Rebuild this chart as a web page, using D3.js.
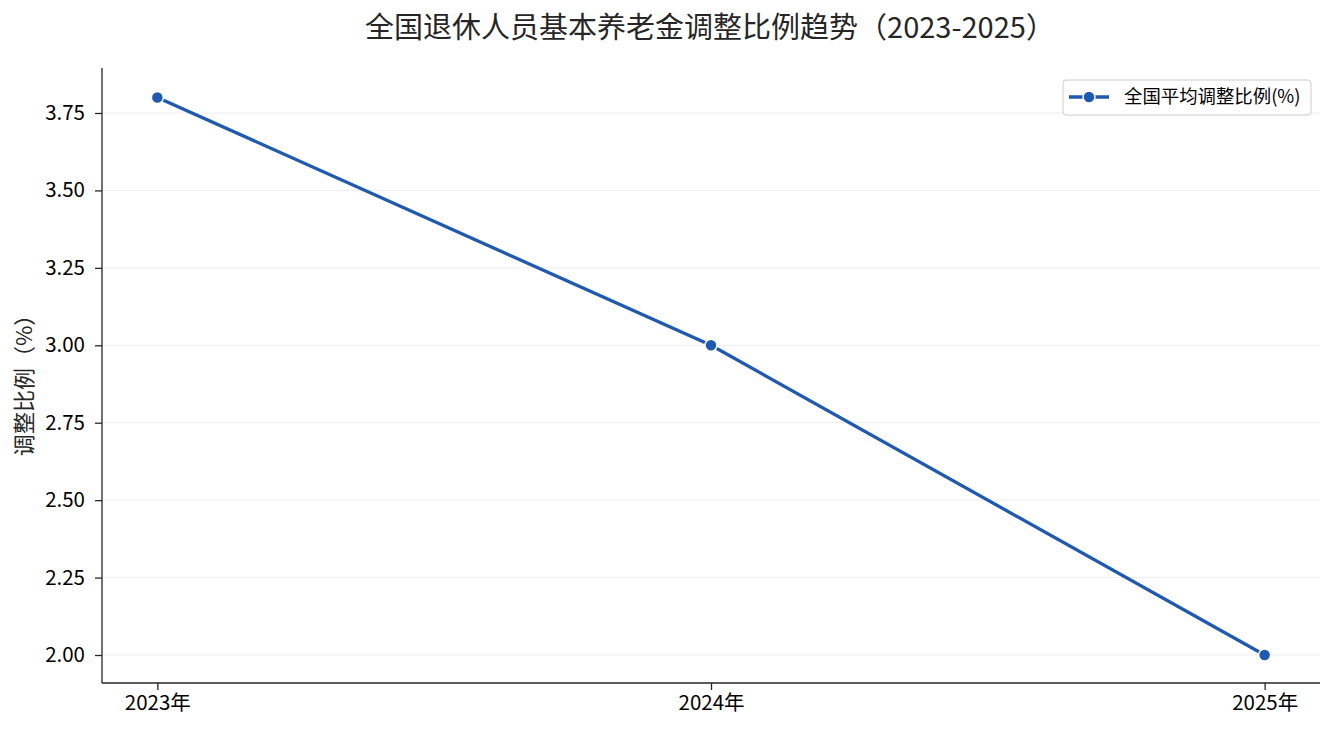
<!DOCTYPE html>
<html><head><meta charset="utf-8">
<script src="https://cdn.jsdelivr.net/npm/d3@7"></script>
<style>
body{margin:0;background:#fff;}
text{font-family:"Noto Sans CJK SC","Noto Sans",sans-serif;}
</style></head>
<body><svg id="c" width="1335" height="735"></svg>
<script>
const categories = ["2023年","2024年","2025年"];
const values = [3.8, 3.0, 2.0];
const yTicks = [2.00,2.25,2.50,2.75,3.00,3.25,3.50,3.75];
const title = "全国退休人员基本养老金调整比例趋势（2023-2025）";
const yLabel = "调整比例（%）";
const seriesName = "全国平均调整比例(%)";

const svg = d3.select("#c");
const L=102, R=1320, T=68, B=683;
const color = "#1f5ab0";
const x = d3.scaleLinear().domain([-0.1, 2.1]).range([L,R]);
const y = d3.scaleLinear().domain([2.0, 3.75]).range([655,113]);

// grid
svg.append("g").selectAll("line").data(yTicks).join("line")
  .attr("x1",L).attr("x2",R).attr("y1",d=>y(d)).attr("y2",d=>y(d))
  .attr("stroke","#e8e8e8").attr("stroke-width",0.8);

// axes
const yAxis = svg.append("g").attr("transform",`translate(${L},0)`)
  .call(d3.axisLeft(y).tickValues(yTicks).tickFormat(d3.format(".2f")).tickSize(7).tickPadding(10));
const xAxis = svg.append("g").attr("transform",`translate(0,${B})`)
  .call(d3.axisBottom(x).tickValues([0,1,2]).tickFormat(i=>categories[i]).tickSize(7).tickPadding(5));
[yAxis,xAxis].forEach(a=>{
  a.select(".domain").attr("stroke","#262626").attr("stroke-width",1.3);
  a.selectAll(".tick line").attr("stroke","#262626").attr("stroke-width",1.3);
  a.selectAll(".tick text").attr("fill","#000").style("font-size","20.5px")
   .style("font-family",'"Noto Sans CJK SC","Noto Sans",sans-serif');
});
yAxis.select(".domain").attr("d",`M0,${T}V${B}`);
xAxis.select(".domain").attr("d",`M${L},0H${R}`);

// line
const pts = values.map((v,i)=>[x(i),y(v)]);
svg.append("path").datum(pts).attr("d",d3.line())
  .attr("fill","none").attr("stroke",color).attr("stroke-width",3.3);
svg.append("g").selectAll("circle").data(pts).join("circle")
  .attr("cx",d=>d[0]).attr("cy",d=>d[1]).attr("r",6)
  .attr("fill",color).attr("stroke","#fff").attr("stroke-width",1.5);

// title
svg.append("text").attr("x",710).attr("y",38).attr("text-anchor","middle")
  .attr("fill","#262626").style("font-size","29px").text(title);
// y label
svg.append("text").attr("transform",`translate(32,380) rotate(-90)`)
  .attr("text-anchor","middle").attr("fill","#262626").style("font-size","22px").text(yLabel);

// legend
const lg = svg.append("g");
lg.append("rect").attr("x",1063).attr("y",80).attr("width",248).attr("height",35).attr("rx",3)
  .attr("fill","#fff").attr("fill-opacity",0.8).attr("stroke","#cccccc").attr("stroke-width",1);
lg.append("line").attr("x1",1069).attr("x2",1109).attr("y1",97).attr("y2",97)
  .attr("stroke",color).attr("stroke-width",3.3);
lg.append("circle").attr("cx",1089).attr("cy",97).attr("r",6).attr("fill",color)
  .attr("stroke","#fff").attr("stroke-width",1.5);
lg.append("text").attr("x",1124).attr("y",103).attr("fill","#000").style("font-size","18.4px").text(seriesName);
</script></body></html>
